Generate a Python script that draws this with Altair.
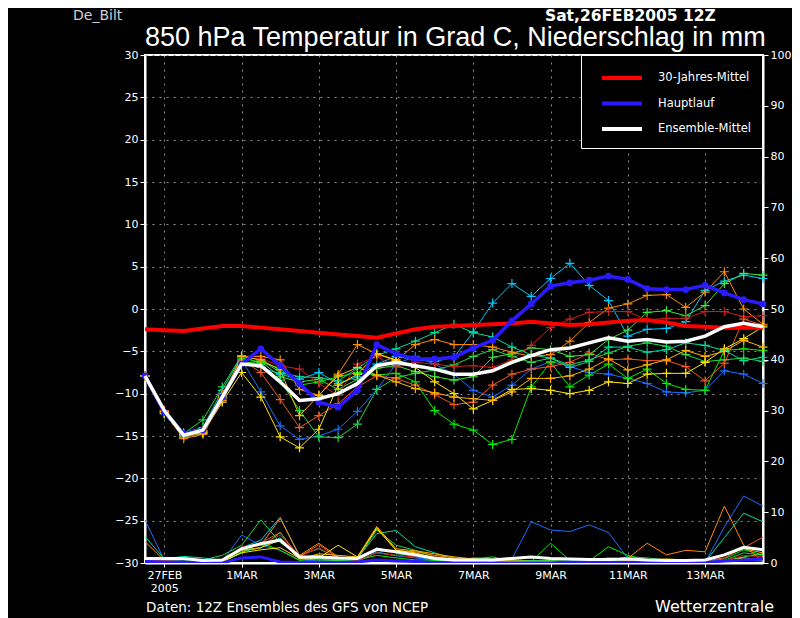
import altair as alt
import pandas as pd

FONT = "DejaVu Sans"

# time steps: hours after 26FEB2005 12Z, every 12 h up to 14MAR 12Z
hours = [12 * i for i in range(33)]

tick_hours = [12, 60, 108, 156, 204, 252, 300, 348]
tick_labels = [["27FEB", "2005"], "1MAR", "3MAR", "5MAR", "7MAR", "9MAR", "11MAR", "13MAR"]

# ---- 850 hPa temperature (deg C) ----
clim = [-2.4, -2.5, -2.6, -2.3, -2.0, -2.0, -2.2, -2.4, -2.6, -2.8, -3.0, -3.2, -3.4, -2.9, -2.4, -2.1,
        -2.0, -1.9, -1.8, -1.7, -1.5, -1.7, -1.9, -1.8, -1.6, -1.4, -1.3, -1.6, -2.0, -2.1, -2.2, -2.2, -2.2]
haupt = [-7.9, -12.2, -14.7, -14.3, -10.4, -6.5, -4.7, -6.7, -8.8, -11.0, -11.6, -9.6, -4.2, -5.3, -5.9, -5.9,
         -5.7, -4.6, -3.7, -1.4, 0.6, 2.7, 3.1, 3.4, 3.9, 3.5, 2.4, 2.3, 2.3, 2.8, 1.9, 1.1, 0.6]
ens_mean = [-7.9, -12.0, -14.9, -14.3, -10.4, -6.5, -6.7, -8.6, -10.8, -10.6, -10.0, -8.8, -6.7, -6.3, -6.7, -7.1,
            -7.7, -7.7, -7.3, -6.3, -5.5, -4.8, -4.6, -4.0, -3.4, -3.8, -3.6, -3.9, -3.8, -3.2, -2.1, -1.7, -2.1]

m_cyan = [-7.9, -12.3, -14.8, -14.4, -10.2, -6.2, -6.9, -7.7, -8.3, -7.5, -8.8, -8.0, -6.5, -5.6, -6.0, -6.2,
          -5.7, -2.7, 0.7, 3.0, 1.5, 3.6, 5.4, 2.8, 1.0, -3.2, -2.4, -2.3, -1.5, 2.2, 3.3, 4.0, 3.6]
m_dodger = [-7.9, -12.1, -14.9, -14.6, -10.8, -6.0, -9.8, -13.8, -15.4, -15.0, -14.2, -12.1, -9.5, -6.5, -5.6, -6.5,
            -7.7, -9.6, -10.4, -9.0, -7.1, -6.2, -6.8, -7.5, -7.7, -8.2, -8.8, -9.8, -9.9, -9.6, -7.3, -7.7, -8.8]
m_green = [-7.9, -12.2, -15.0, -14.5, -10.4, -5.8, -6.3, -7.0, -9.0, -8.6, -8.0, -7.5, -7.8, -7.6, -8.6, -12.0,
           -13.6, -14.3, -16.0, -15.4, -9.2, -6.3, -9.2, -7.8, -6.5, -8.2, -7.1, -8.8, -9.5, -9.6, -4.9, -4.7, -4.9]
m_spring = [-7.9, -12.1, -14.7, -13.1, -9.2, -5.5, -6.5, -8.4, -12.0, -15.1, -15.2, -13.6, -9.5, -8.1, -7.6, -7.2,
            -6.6, -5.6, -4.8, -5.6, -6.3, -5.8, -6.6, -6.0, -5.2, -4.4, -4.0, -4.4, -5.4, -6.2, -6.0, -5.8, -6.2]
m_teal = [-7.9, -12.0, -14.6, -14.0, -9.6, -5.6, -6.0, -7.5, -8.0, -8.1, -8.5, -7.0, -5.5, -4.7, -3.8, -2.8,
          -1.8, -2.8, -3.3, -4.5, -5.4, -5.8, -6.9, -6.2, -4.5, -4.5, -5.1, -4.8, -4.0, -4.3, -4.9, -6.1, -5.7]
m_lime = [-7.9, -12.4, -15.1, -14.7, -10.6, -6.4, -6.2, -8.0, -8.6, -8.3, -9.5, -8.3, -7.0, -6.7, -7.4, -8.0,
          -8.4, -8.0, -5.7, -5.3, -4.6, -4.8, -5.6, -5.4, -3.6, -2.5, -0.4, -0.2, -0.8, 0.4, 3.0, 4.2, 4.0]
m_orange = [-7.9, -12.3, -15.3, -14.8, -10.8, -5.6, -5.6, -6.0, -9.5, -10.2, -7.7, -4.2, -5.3, -6.1, -4.2, -3.6,
            -4.2, -4.2, -4.5, -5.1, -5.6, -5.4, -3.8, -1.6, 0.1, 0.6, 1.6, 1.7, 0.2, 2.0, 4.4, 0.0, -1.8]
m_brick = [-7.9, -12.2, -14.9, -14.3, -10.6, -5.7, -5.9, -6.7, -7.1, -8.8, -10.2, -6.5, -5.6, -6.9, -6.3, -6.5,
           -6.8, -6.7, -6.9, -6.0, -4.3, -2.2, -1.2, -0.4, -0.3, -0.3, -1.3, -1.1, -1.1, -0.3, -0.3, -0.9, -0.8]
m_ored = [-7.9, -12.0, -15.2, -14.5, -10.0, -6.0, -7.5, -10.7, -14.0, -12.6, -11.2, -9.2, -7.9, -8.2, -9.0, -10.1,
          -11.3, -11.0, -9.0, -7.7, -7.1, -6.8, -6.3, -5.2, -6.0, -5.9, -6.1, -6.1, -6.8, -8.5, -6.4, -1.2, -1.9]
m_yellow = [-7.9, -12.3, -14.9, -14.6, -11.0, -7.5, -10.4, -15.1, -16.4, -14.2, -9.0, -7.7, -5.3, -6.0, -6.9, -8.6,
            -10.0, -11.8, -10.8, -9.5, -9.4, -9.6, -10.0, -9.6, -8.6, -8.8, -7.7, -7.6, -7.6, -6.3, -4.7, -3.5, -2.1]
m_gold = [-7.9, -12.1, -14.8, -14.4, -10.4, -5.6, -6.0, -7.2, -12.6, -10.2, -7.9, -6.9, -7.8, -8.6, -9.4, -9.9,
          -10.4, -10.6, -10.8, -9.8, -8.2, -8.2, -7.9, -7.1, -5.9, -7.2, -6.6, -6.0, -4.9, -5.6, -5.0, -3.7, -4.5]

# ---- 12-h precipitation (mm) ----
p_mean = [0.9, 0.9, 0.9, 0.5, 0.6, 2.8, 3.8, 4.5, 1.2, 1.2, 1.0, 0.9, 2.7, 2.2, 1.6, 0.9,
          0.6, 0.6, 0.6, 0.9, 1.2, 0.9, 0.8, 0.7, 0.7, 0.8, 0.6, 0.5, 0.5, 0.6, 1.6, 3.1, 2.6]
p_haupt = [0.3, 0.2, 0.2, 0.0, 0.0, 1.0, 1.2, 0.2, 0.1, 0.1, 0.1, 0.2, 0.6, 0.4, 0.3, 0.1,
           0.0, 0.0, 0.0, 0.0, 0.0, 0.0, 0.2, 0.2, 0.1, 0.1, 0.2, 0.1, 0.2, 0.1, 0.4, 0.6, 0.8]
p_cyan = [0.0, 0.3, 0.3, 0.0, 0.3, 3.0, 4.5, 9.0, 1.2, 0.8, 0.5, 0.3, 3.0, 2.0, 1.2, 0.5,
          0.3, 0.3, 0.2, 0.3, 0.2, 0.2, 0.1, 0.1, 0.1, 0.1, 0.1, 0.1, 0.1, 0.1, 0.3, 0.5, 0.4]
p_dodger = [8.5, 0.5, 0.0, 0.0, 0.3, 5.5, 3.5, 2.5, 0.6, 0.4, 0.4, 0.3, 2.2, 1.4, 1.0, 0.5,
            0.2, 0.2, 0.2, 0.8, 8.1, 6.5, 6.2, 7.5, 6.0, 0.9, 0.3, 0.2, 0.2, 0.1, 7.1, 13.2, 11.2]
p_green = [1.0, 0.9, 0.6, 0.5, 0.3, 2.0, 4.0, 2.5, 0.5, 1.0, 0.6, 0.6, 1.5, 1.0, 0.6, 0.5,
           0.5, 0.8, 1.2, 0.3, 0.3, 3.9, 0.5, 0.4, 3.2, 1.5, 0.6, 0.4, 0.3, 0.3, 0.8, 2.6, 1.6]
p_spring = [0.8, 0.5, 0.8, 0.6, 1.5, 3.5, 8.5, 4.0, 1.5, 2.8, 1.0, 0.8, 6.5, 3.5, 2.5, 1.2,
            0.6, 0.5, 0.4, 0.3, 0.2, 0.3, 0.3, 0.2, 0.6, 1.2, 1.0, 0.6, 0.4, 0.3, 0.5, 2.0, 1.5]
p_teal = [5.2, 0.8, 1.3, 1.0, 0.5, 2.5, 3.0, 5.0, 1.0, 1.5, 0.8, 0.9, 5.8, 6.4, 3.2, 2.0,
          0.8, 0.6, 0.5, 0.4, 0.5, 0.3, 0.4, 0.4, 0.5, 0.3, 0.4, 0.3, 0.3, 0.2, 5.0, 9.8, 8.1]
p_lime = [0.5, 0.6, 0.4, 0.2, 0.2, 2.2, 3.0, 6.0, 0.8, 0.6, 0.5, 0.4, 2.0, 1.5, 1.8, 0.6,
          0.4, 1.0, 0.8, 0.6, 0.4, 0.5, 0.3, 0.5, 1.0, 0.8, 0.5, 0.4, 0.3, 0.2, 0.4, 1.2, 1.8]
p_orange = [4.2, 0.5, 0.3, 0.2, 0.3, 2.8, 3.5, 8.8, 1.5, 3.9, 1.2, 0.9, 7.0, 2.5, 2.2, 1.5,
            1.0, 0.6, 0.4, 0.3, 0.3, 0.2, 0.2, 0.3, 0.5, 0.9, 3.9, 1.6, 2.5, 2.2, 11.2, 3.5, 0.2]
p_brick = [0.4, 0.3, 0.2, 0.1, 0.2, 3.2, 3.5, 5.5, 1.3, 3.0, 0.9, 0.5, 2.0, 1.5, 1.2, 1.0,
           0.8, 0.5, 0.3, 0.3, 0.3, 0.2, 0.2, 0.2, 0.2, 0.2, 0.3, 0.3, 0.3, 0.2, 0.5, 1.5, 1.2]
p_ored = [0.6, 0.4, 0.2, 0.1, 0.2, 3.0, 4.0, 6.0, 1.2, 3.6, 1.0, 0.7, 2.5, 2.0, 1.6, 1.2,
          0.9, 0.5, 0.3, 0.3, 0.3, 0.3, 0.2, 0.2, 0.3, 0.3, 0.4, 0.5, 0.5, 0.4, 1.0, 3.0, 5.1]
p_yellow = [0.3, 0.2, 0.2, 0.1, 0.2, 2.0, 2.6, 3.0, 0.9, 1.0, 3.5, 1.2, 6.8, 2.5, 2.0, 1.0,
            0.8, 0.6, 0.4, 0.3, 0.3, 0.3, 0.3, 0.2, 0.3, 0.3, 0.3, 0.3, 0.3, 0.2, 0.4, 1.0, 0.6]
p_gold = [0.3, 0.3, 0.2, 0.2, 0.3, 2.5, 3.0, 4.5, 0.8, 1.8, 1.5, 1.2, 7.2, 2.8, 2.4, 1.8,
          1.2, 0.8, 0.5, 0.4, 0.3, 0.3, 0.2, 0.3, 0.3, 0.4, 0.6, 0.8, 0.6, 0.5, 1.5, 2.8, 2.0]

members = [
    ("m01", "#00c8ff", m_cyan, p_cyan),
    ("m02", "#1e6eff", m_dodger, p_dodger),
    ("m03", "#00f000", m_green, p_green),
    ("m04", "#20d848", m_spring, p_spring),
    ("m05", "#00dca0", m_teal, p_teal),
    ("m06", "#3ce63c", m_lime, p_lime),
    ("m07", "#ff8c00", m_orange, p_orange),
    ("m08", "#c81e1e", m_brick, p_brick),
    ("m09", "#f05a28", m_ored, p_ored),
    ("m10", "#ffe600", m_yellow, p_yellow),
    ("m11", "#ffb400", m_gold, p_gold),
]

series_names = ["30-Jahres-Mittel", "Hauptlauf", "Ensemble-Mittel"]
series_colors = ["#ff0000", "#2a1aff", "#ffffff"]

# ---- tables ----
mem_rows, pr_rows = [], []
for name, col, temps, prec in members:
    for h, t, p in zip(hours, temps, prec):
        mem_rows.append({"h": h, "T": t, "m": name, "c": col})
        pr_rows.append({"h": h, "P": p, "m": name, "c": col, "w": 1.0})
for name, col, prec, w in [("Hauptlauf", "#2a1aff", p_haupt, 3.0), ("Ensemble-Mittel", "#ffffff", p_mean, 3.0)]:
    for h, p in zip(hours, prec):
        pr_rows.append({"h": h, "P": p, "m": name, "c": col, "w": w})
mem_df = pd.DataFrame(mem_rows)
pr_df = pd.DataFrame(pr_rows)

main_rows = []
for s, vals in zip(series_names, [clim, haupt, ens_mean]):
    for h, t in zip(hours, vals):
        main_rows.append({"h": h, "T": t, "s": s})
main_df = pd.DataFrame(main_rows)


def label_expr():
    parts = []
    for h, lab in zip(tick_hours, tick_labels):
        if isinstance(lab, list):
            s = "[" + ",".join("'%s'" % x for x in lab) + "]"
        else:
            s = "'%s'" % lab
        parts.append("datum.value == %d ? %s" % (h, s))
    return " : ".join(parts) + " : ''"


x_enc = alt.X(
    "h:Q",
    scale=alt.Scale(domain=[0, 384], nice=False, zero=False),
    axis=alt.Axis(values=tick_hours, labelExpr=label_expr(), title=None, grid=True,
                  gridColor="#8c8c8c", gridDash=[2, 5], gridWidth=1,
                  domainColor="white", domainWidth=2, tickColor="white", tickSize=4,
                  labelColor="white", labelFont=FONT, labelFontSize=11, labelPadding=2,
                  labelLineHeight=13),
)
y_temp = alt.Y(
    "T:Q",
    scale=alt.Scale(domain=[-30, 30], nice=False, zero=False),
    axis=alt.Axis(values=list(range(-30, 31, 5)), title=None, grid=True,
                  gridColor="#8c8c8c", gridDash=[2, 5], gridWidth=1,
                  domainColor="white", domainWidth=2, tickColor="white", tickSize=5,
                  labelColor="white", labelFont=FONT, labelFontSize=11, labelPadding=2),
)
y_prec = alt.Y(
    "P:Q",
    scale=alt.Scale(domain=[0, 100], nice=False, zero=True),
    axis=alt.Axis(orient="right", values=list(range(0, 101, 10)), title=None, grid=False,
                  domainColor="white", domainWidth=2, tickColor="white", tickSize=5,
                  labelColor="white", labelFont=FONT, labelFontSize=11, labelPadding=2),
)

legend = alt.Legend(
    title=None, orient="none", legendX=436, legendY=0, direction="vertical",
    symbolType="M-2,0L2,0", symbolSize=400, symbolStrokeWidth=4, symbolOffset=18,
    labelColor="white", labelFont=FONT, labelFontSize=11.5, labelOffset=24,
    padding=11, rowPadding=5.5, strokeColor="white", fillColor="black",
)
color_main = alt.Color("s:N", scale=alt.Scale(domain=series_names, range=series_colors), legend=legend)

# precipitation layers (right axis)
prec_lines = alt.Chart(pr_df[pr_df["w"] < 2]).mark_line(strokeWidth=1, clip=True).encode(
    x=x_enc, y=y_prec, detail="m:N", color=alt.Color("c:N", scale=None))
prec_thick = alt.Chart(pr_df[pr_df["w"] >= 2]).mark_line(strokeWidth=3, clip=True).encode(
    x=x_enc, y=y_prec, detail="m:N", color=alt.Color("c:N", scale=None))
prec_layer = alt.layer(prec_lines, prec_thick)

# temperature layers (left axis)
mem_lines = alt.Chart(mem_df).mark_line(strokeWidth=1).encode(
    x=x_enc, y=y_temp, detail="m:N", color=alt.Color("c:N", scale=None))
mem_pts = alt.Chart(mem_df).mark_point(
    shape="M-1,0L1,0M0,-1L0,1", size=81, strokeWidth=1.2, filled=False, opacity=1).encode(
    x=x_enc, y=y_temp, detail="m:N", color=alt.Color("c:N", scale=None))
clim_line = alt.Chart(main_df[main_df["s"] == series_names[0]]).mark_line(strokeWidth=4).encode(
    x=x_enc, y=y_temp, color=color_main)
haupt_line = alt.Chart(main_df[main_df["s"] == series_names[1]]).mark_line(strokeWidth=3.5).encode(
    x=x_enc, y=y_temp, color=color_main)
haupt_pts = alt.Chart(main_df[main_df["s"] == series_names[1]]).mark_circle(size=45, opacity=1).encode(
    x=x_enc, y=y_temp, color=color_main)
mean_line = alt.Chart(main_df[main_df["s"] == series_names[2]]).mark_line(strokeWidth=3.5).encode(
    x=x_enc, y=y_temp, color=color_main)
temp_layer = alt.layer(mem_lines, mem_pts, clim_line, haupt_line, haupt_pts, mean_line)

# texts around the plot
texts = [
    ("De_Bilt", -72, -35, 14, "normal", "#d0d0d0", FONT),
    ("Sat,26FEB2005 12Z", 400, -34, 15.5, "bold", "white", FONT),
    ("850 hPa Temperatur in Grad C, Niederschlag in mm", 0, -9, 27, "normal", "white", "Liberation Sans"),
    ("Daten: 12Z Ensembles des GFS von NCEP", 1, 557, 13.5, "normal", "white", FONT),
    ("Wetterzentrale", 510, 557, 16, "normal", "white", FONT),
]
text_layers = []
for t, tx, ty, fs, fw, fc, ff in texts:
    text_layers.append(
        alt.Chart(pd.DataFrame({"t": [t]})).mark_text(
            align="left", baseline="alphabetic", fontSize=fs, fontWeight=fw, color=fc, font=ff
        ).encode(text="t:N", x=alt.value(tx), y=alt.value(ty))
    )

chart = alt.layer(temp_layer, prec_layer, *text_layers).resolve_scale(
    y="independent"
).properties(
    width=618, height=508,
    padding={"left": 137, "top": 47, "right": 29, "bottom": 55},
    autosize=alt.AutoSizeParams(type="none"),
    background="black",
    usermeta={"embedOptions": {"defaultStyle": "body{background:#000;}"}},
).configure_view(stroke="white", strokeWidth=2)

chart.save("out.html", embed_options={"renderer": "svg", "actions": False})
